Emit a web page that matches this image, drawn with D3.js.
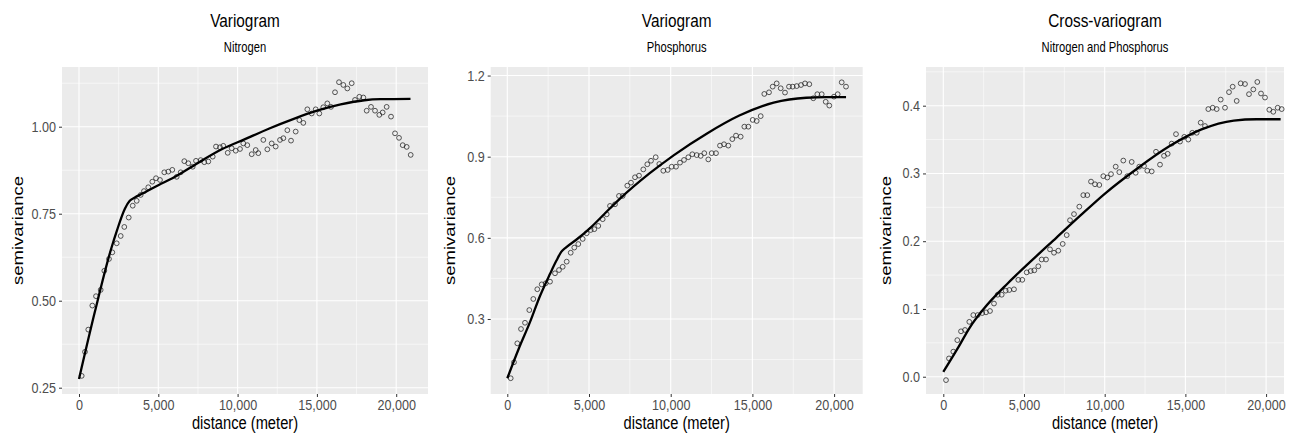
<!DOCTYPE html>
<html><head><meta charset="utf-8">
<script src="https://cdn.jsdelivr.net/npm/d3@7"></script>
<style>html,body{margin:0;padding:0;background:#fff;}svg{display:block;font-family:"Liberation Sans",Arial,sans-serif;}</style>
</head><body><svg id="c" width="1290" height="434"></svg>
<script>
// ---------- data ----------
const titles = ["Variogram","Variogram","Cross-variogram"];
const subtitles = ["Nitrogen","Phosphorus","Nitrogen and Phosphorus"];
const xLabel = "distance (meter)";
const yLabel = "semivariance";
const xTicks = [0,5000,10000,15000,20000];
const yTicks1 = [0.25,0.50,0.75,1.00];
const yTicks2 = [0.3,0.6,0.9,1.2];
const yTicks3 = [0.0,0.1,0.2,0.3,0.4];

const nDist = [170,378,586,840,1072,1366,1597,1891,2100,2377,2629,2856,3134,3386,3638,3890,4098,4369,4622,4855,5107,5378,5630,5882,6160,6412,6639,6891,7169,7377,7673,7900,8152,8430,8638,8890,9098,9376,9628,9880,10151,10359,10611,10889,11141,11305,11622,11874,12149,12401,12673,12884,13136,13367,13662,13892,14144,14396,14672,14924,15151,15403,15655,15889,16141,16393,16666,16918,17194,17402,17673,17925,18138,18411,18663,18934,19145,19397,19672,19924,20176,20409,20661,20913];
const nGamma = [.284,.353,.417,.486,.513,.531,.586,.620,.639,.665,.686,.712,.739,.773,.787,.804,.815,.826,.842,.852,.847,.869,.871,.876,.856,.869,.901,.895,.885,.902,.904,.898,.900,.914,.943,.941,.945,.925,.938,.931,.936,.952,.947,.921,.933,.924,.962,.935,.952,.943,.962,.967,.990,.960,.986,1.019,1.011,1.050,1.038,1.050,1.038,1.056,1.067,1.057,1.099,1.128,1.120,1.110,1.125,1.077,1.086,1.084,1.046,1.057,1.046,1.034,1.041,1.057,1.029,.981,.968,.947,.942,.919];
const nFitDist = [0,1000,2000,2400,2900,3200,3500,4000,5000,6000,7500,9000,10500,12000,13500,15000,16500,18000,19000,20900];
const nFit = [.275,.468,.645,.703,.765,.787,.796,.808,.832,.855,.896,.935,.965,.995,1.022,1.046,1.064,1.076,1.079,1.080];

const pDist = [208,410,612,838,1083,1346,1591,1836,2105,2350,2613,2919,3164,3390,3635,3880,4100,4345,4614,4859,5104,5324,5569,5838,6083,6285,6591,6836,7062,7344,7570,7815,8060,8323,8568,8794,9082,9302,9547,9816,10061,10324,10569,10814,11077,11322,11591,11836,12056,12301,12509,12772,13017,13262,13525,13770,13996,14282,14507,14752,15018,15263,15508,15728,16016,16241,16486,16732,16995,17240,17466,17711,17974,18219,18482,18727,18972,19241,19486,19706,19994,20220,20465,20728];
const pGamma = [.081,.140,.210,.263,.286,.333,.374,.410,.428,.432,.438,.469,.481,.493,.512,.545,.564,.577,.596,.617,.629,.632,.644,.669,.687,.718,.724,.755,.755,.793,.804,.824,.830,.853,.872,.885,.898,.873,.848,.851,.863,.863,.878,.888,.898,.909,.906,.903,.913,.890,.913,.913,.941,.946,.941,.965,.978,.974,1.011,1.011,1.036,1.032,1.050,1.132,1.138,1.159,1.171,1.153,1.137,1.159,1.159,1.161,1.165,1.171,1.168,1.116,1.131,1.131,1.103,1.089,1.122,1.131,1.175,1.159];
const pFitDist = [0,700,1400,2000,2600,3000,3300,3600,4200,5100,6000,6900,8700,10200,12200,14200,16300,18300,19500,20730];
const pFit = [.081,.19,.29,.385,.465,.515,.548,.565,.592,.638,.692,.745,.838,.906,.985,1.052,1.10,1.118,1.12,1.12];

const cDist = [167,353,620,867,1097,1345,1611,1859,2131,2416,2646,2894,3141,3371,3618,3866,4089,4380,4647,4895,5167,5415,5638,5886,6097,6363,6611,6859,7125,7398,7646,7851,8098,8427,8675,8922,9152,9399,9666,9914,10162,10391,10682,10905,11153,11401,11673,11921,12144,12435,12640,12913,13179,13427,13675,13903,14151,14418,14666,14933,15180,15428,15701,15949,16215,16420,16692,16940,17188,17454,17702,17930,18178,18426,18693,18941,19209,19456,19685,19933,20199,20447,20719,20967];
const cGamma = [-.005,.027,.037,.054,.067,.069,.081,.091,.091,.094,.095,.097,.108,.121,.121,.127,.128,.129,.143,.143,.154,.156,.157,.163,.173,.173,.188,.183,.186,.196,.209,.231,.240,.251,.268,.268,.288,.284,.283,.296,.294,.299,.310,.302,.319,.296,.317,.301,.310,.311,.304,.303,.332,.313,.326,.329,.344,.358,.347,.354,.350,.360,.360,.375,.370,.395,.397,.395,.409,.397,.420,.428,.407,.433,.432,.417,.424,.435,.418,.412,.394,.391,.397,.395];
const cFitDist = [0,870,1650,2500,4000,5500,7000,8500,10000,12000,14000,16000,18000,19400,20900];
const cFit = [.007,.041,.073,.10,.138,.172,.205,.238,.27,.307,.34,.365,.378,.38,.38];

// ---------- layout ----------
const panels = [
  {l:62, r:428, xd:[-1072,22004], yd:[0.2319,1.1716], yt:yTicks1, yfmt:d3.format(".2f"), dist:nDist, g:nGamma, fd:nFitDist, f:nFit, ylx:17},
  {l:490.7, r:862.7, xd:[-1016,21750], yd:[0.0227,1.2316], yt:yTicks2, yfmt:d3.format(".1f"), dist:pDist, g:pGamma, fd:pFitDist, f:pFit, ylx:449},
  {l:926, r:1284, xd:[-1072,21110], yd:[-0.0255,0.4571], yt:yTicks3, yfmt:d3.format(".1f"), dist:cDist, g:cGamma, fd:cFitDist, f:cFit, ylx:885}
];
const plotTop = 67, plotBottom = 394;
const svg = d3.select("#c");

function htext(x, y, s, size, sx, fill){
  svg.append("text").attr("transform",`translate(${x},${y}) scale(${sx},1)`)
    .attr("text-anchor","middle").attr("font-size",size).attr("fill",fill).text(s);
}

panels.forEach((p,i)=>{
  const x = d3.scaleLinear().domain(p.xd).range([p.l,p.r]);
  const y = d3.scaleLinear().domain(p.yd).range([plotBottom,plotTop]);
  const g = svg.append("g");
  g.append("rect").attr("x",p.l).attr("y",plotTop).attr("width",p.r-p.l).attr("height",plotBottom-plotTop).attr("fill","#EBEBEB");
  const xMinor = xTicks.slice(0,-1).map((d,k)=>(d+xTicks[k+1])/2).concat([xTicks[xTicks.length-1]+2500]).filter(d=>d>p.xd[0]&&d<p.xd[1]);
  const ystep = p.yt[1]-p.yt[0];
  const yMinor = p.yt.map(d=>d+ystep/2).concat([p.yt[0]-ystep/2]).filter(d=>d>p.yd[0]&&d<p.yd[1]);
  g.selectAll(null).data(xMinor).enter().append("line").attr("x1",d=>x(d)).attr("x2",d=>x(d)).attr("y1",plotTop).attr("y2",plotBottom).attr("stroke","#fff").attr("stroke-width",0.55);
  g.selectAll(null).data(yMinor).enter().append("line").attr("y1",d=>y(d)).attr("y2",d=>y(d)).attr("x1",p.l).attr("x2",p.r).attr("stroke","#fff").attr("stroke-width",0.55);
  g.selectAll(null).data(xTicks).enter().append("line").attr("x1",d=>x(d)).attr("x2",d=>x(d)).attr("y1",plotTop).attr("y2",plotBottom).attr("stroke","#fff").attr("stroke-width",1.1);
  g.selectAll(null).data(p.yt).enter().append("line").attr("y1",d=>y(d)).attr("y2",d=>y(d)).attr("x1",p.l).attr("x2",p.r).attr("stroke","#fff").attr("stroke-width",1.1);
  const xa = svg.append("g").attr("transform",`translate(0,${plotBottom})`).call(d3.axisBottom(x).tickValues(xTicks).tickFormat(d3.format(",")).tickSize(3).tickPadding(3));
  const ya = svg.append("g").attr("transform",`translate(${p.l},0)`).call(d3.axisLeft(y).tickValues(p.yt).tickFormat(p.yfmt).tickSize(3).tickPadding(3));
  [xa,ya].forEach(a=>{
    a.select(".domain").remove();
    a.selectAll(".tick line").attr("stroke","#333").attr("stroke-width",1);
    a.selectAll(".tick text").attr("fill","#4D4D4D").attr("font-size",14).attr("font-family","Liberation Sans, Arial, sans-serif");
  });
  xa.selectAll(".tick text").attr("transform",`scale(0.9,1)`);
  ya.selectAll(".tick text").each(function(){
    const t=d3.select(this); const xx=+t.attr("x");
    t.attr("x",null).attr("transform",`translate(${xx},0) scale(0.9,1)`);
  });
  const pts = p.dist.map((d,k)=>[d,p.g[k]]);
  g.selectAll(null).data(pts).enter().append("circle")
    .attr("cx",d=>x(d[0])).attr("cy",d=>y(d[1])).attr("r",2.4)
    .attr("fill","none").attr("stroke","#222").attr("stroke-width",0.75);
  const fit = p.fd.map((d,k)=>[d,p.f[k]]);
  g.append("path").datum(fit).attr("d",d3.line().x(d=>x(d[0])).y(d=>y(d[1])).curve(d3.curveMonotoneX))
    .attr("fill","none").attr("stroke","#000").attr("stroke-width",2.3);
  const cx = (p.l+p.r)/2;
  htext(cx, 27, titles[i], 18.5, 0.83, "#000");
  htext(cx, 52, subtitles[i], 14, 0.8, "#000");
  htext(cx, 429, xLabel, 17.5, 0.84, "#000");
  svg.append("text").attr("transform",`translate(${p.ylx+6},${(plotTop+plotBottom)/2}) rotate(-90) scale(1,0.82)`)
    .attr("text-anchor","middle").attr("font-size",18.5).attr("fill","#000").text(yLabel);
});
</script></body></html>
